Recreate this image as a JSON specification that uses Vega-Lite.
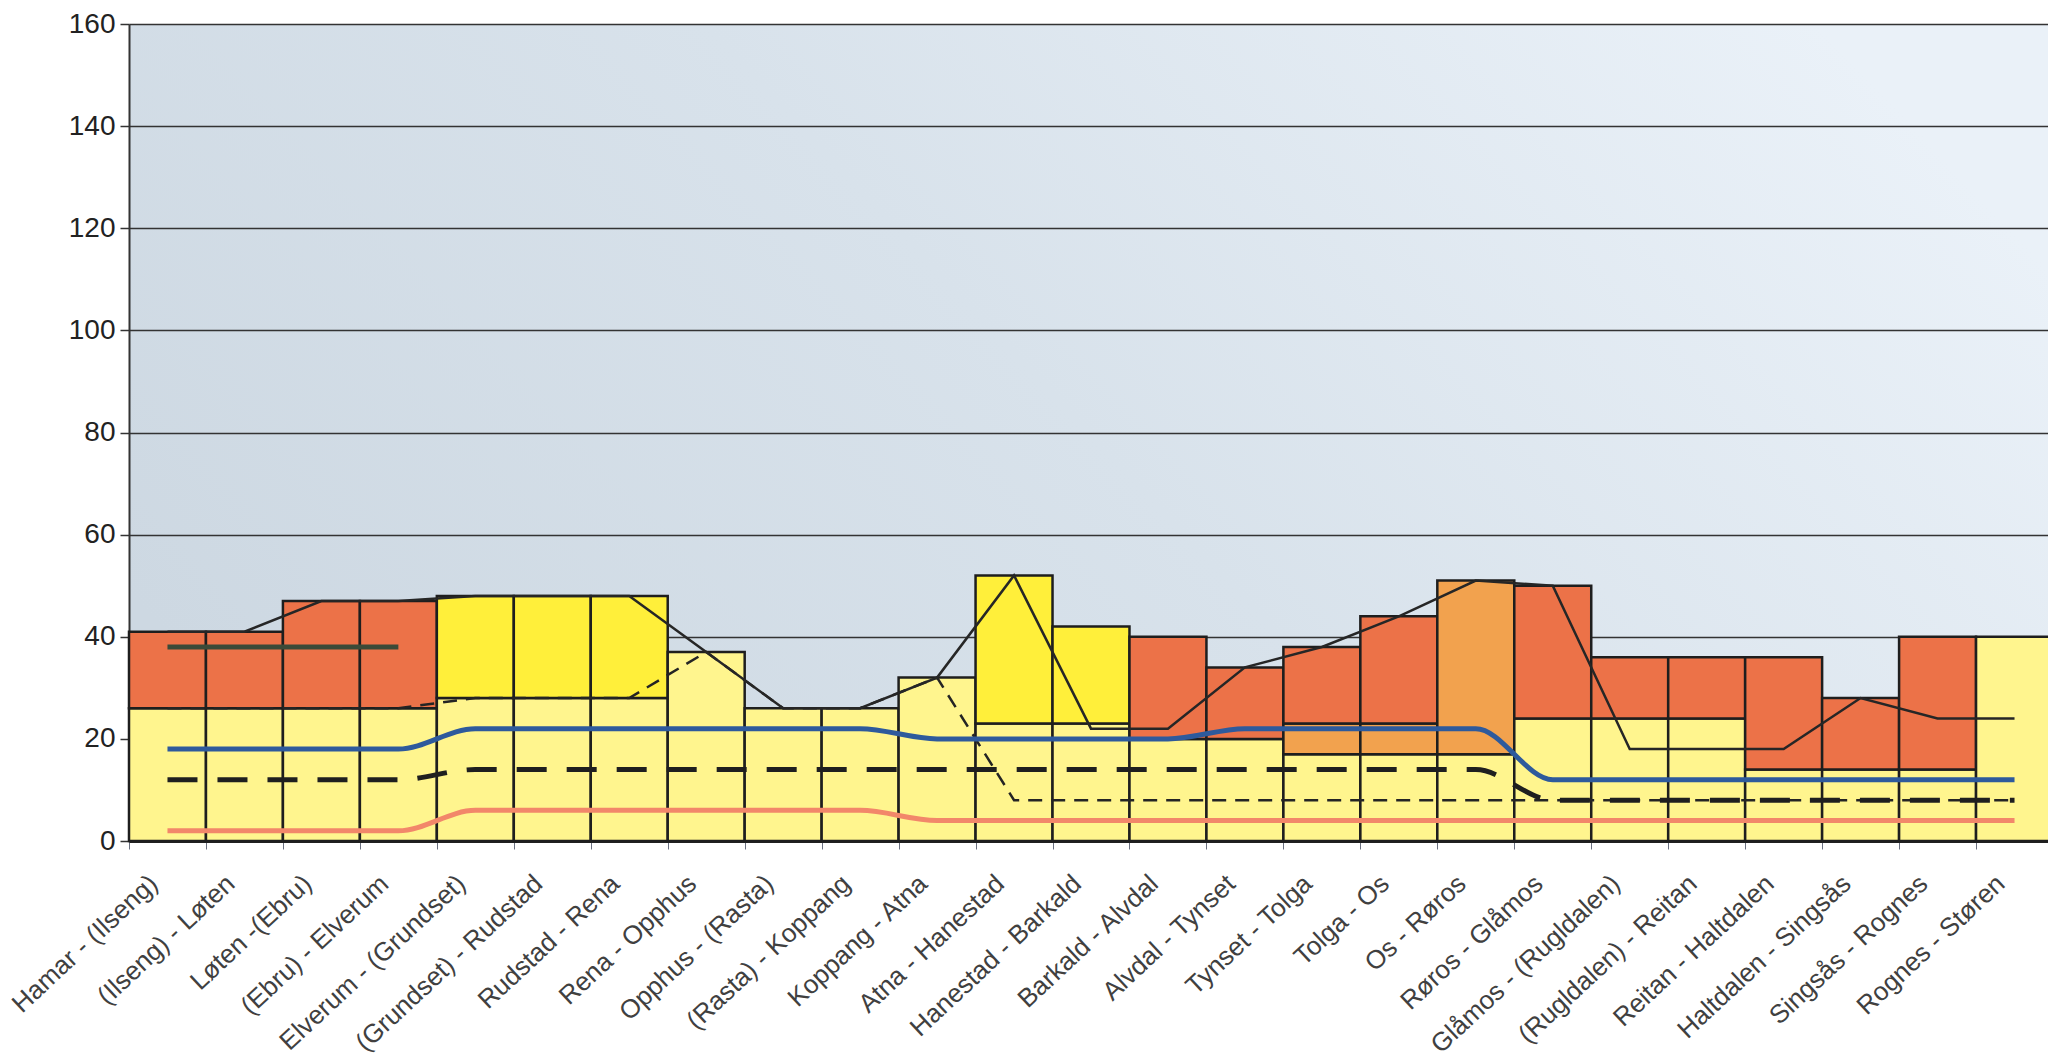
{
  "$schema": "https://vega.github.io/schema/vega-lite/v6.json",
  "width": 1919,
  "height": 817,
  "autosize": {"type": "none"},
  "padding": {"left": 129, "top": 24, "right": 0, "bottom": 219},
  "background": "#ffffff",
  "datasets": {
    "segs": [
      {"r": "Hamar - (Ilseng)", "p": "1base", "v": 26}, {"r": "Hamar - (Ilseng)", "p": "3red", "v": 15},
      {"r": "(Ilseng) - Løten", "p": "1base", "v": 26}, {"r": "(Ilseng) - Løten", "p": "3red", "v": 15},
      {"r": "Løten -(Ebru)", "p": "1base", "v": 26}, {"r": "Løten -(Ebru)", "p": "3red", "v": 21},
      {"r": "(Ebru) - Elverum", "p": "1base", "v": 26}, {"r": "(Ebru) - Elverum", "p": "3red", "v": 21},
      {"r": "Elverum - (Grundset)", "p": "1base", "v": 28}, {"r": "Elverum - (Grundset)", "p": "4yellow", "v": 20},
      {"r": "(Grundset) - Rudstad", "p": "1base", "v": 28}, {"r": "(Grundset) - Rudstad", "p": "4yellow", "v": 20},
      {"r": "Rudstad - Rena", "p": "1base", "v": 28}, {"r": "Rudstad - Rena", "p": "4yellow", "v": 20},
      {"r": "Rena - Opphus", "p": "1base", "v": 37},
      {"r": "Opphus - (Rasta)", "p": "1base", "v": 26},
      {"r": "(Rasta) - Koppang", "p": "1base", "v": 26},
      {"r": "Koppang - Atna", "p": "1base", "v": 32},
      {"r": "Atna - Hanestad", "p": "1base", "v": 23}, {"r": "Atna - Hanestad", "p": "4yellow", "v": 29},
      {"r": "Hanestad - Barkald", "p": "1base", "v": 23}, {"r": "Hanestad - Barkald", "p": "4yellow", "v": 19},
      {"r": "Barkald - Alvdal", "p": "1base", "v": 20}, {"r": "Barkald - Alvdal", "p": "3red", "v": 20},
      {"r": "Alvdal - Tynset", "p": "1base", "v": 20}, {"r": "Alvdal - Tynset", "p": "3red", "v": 14},
      {"r": "Tynset - Tolga", "p": "1base", "v": 17}, {"r": "Tynset - Tolga", "p": "2orange", "v": 6}, {"r": "Tynset - Tolga", "p": "3red", "v": 15},
      {"r": "Tolga - Os", "p": "1base", "v": 17}, {"r": "Tolga - Os", "p": "2orange", "v": 6}, {"r": "Tolga - Os", "p": "3red", "v": 21},
      {"r": "Os - Røros", "p": "1base", "v": 17}, {"r": "Os - Røros", "p": "2orange", "v": 34},
      {"r": "Røros - Glåmos", "p": "1base", "v": 24}, {"r": "Røros - Glåmos", "p": "3red", "v": 26},
      {"r": "Glåmos - (Rugldalen)", "p": "1base", "v": 24}, {"r": "Glåmos - (Rugldalen)", "p": "3red", "v": 12},
      {"r": "(Rugldalen) - Reitan", "p": "1base", "v": 24}, {"r": "(Rugldalen) - Reitan", "p": "3red", "v": 12},
      {"r": "Reitan - Haltdalen", "p": "1base", "v": 14}, {"r": "Reitan - Haltdalen", "p": "3red", "v": 22},
      {"r": "Haltdalen - Singsås", "p": "1base", "v": 14}, {"r": "Haltdalen - Singsås", "p": "3red", "v": 14},
      {"r": "Singsås - Rognes", "p": "1base", "v": 14}, {"r": "Singsås - Rognes", "p": "3red", "v": 26},
      {"r": "Rognes - Støren", "p": "1base", "v": 40}
    ],
    "lines": [
      {"r": "Hamar - (Ilseng)", "a": 41, "b": 26, "c": 12, "blue": 18, "sal": 2, "ol": 38},
      {"r": "(Ilseng) - Løten", "a": 41, "b": 26, "c": 12, "blue": 18, "sal": 2, "ol": 38},
      {"r": "Løten -(Ebru)", "a": 47, "b": 26, "c": 12, "blue": 18, "sal": 2, "ol": 38},
      {"r": "(Ebru) - Elverum", "a": 47, "b": 26, "c": 12, "blue": 18, "sal": 2, "ol": 38},
      {"r": "Elverum - (Grundset)", "a": 48, "b": 28, "c": 14, "blue": 22, "sal": 6, "ol": null},
      {"r": "(Grundset) - Rudstad", "a": 48, "b": 28, "c": 14, "blue": 22, "sal": 6, "ol": null},
      {"r": "Rudstad - Rena", "a": 48, "b": 28, "c": 14, "blue": 22, "sal": 6, "ol": null},
      {"r": "Rena - Opphus", "a": 37, "b": 37, "c": 14, "blue": 22, "sal": 6, "ol": null},
      {"r": "Opphus - (Rasta)", "a": 26, "b": 26, "c": 14, "blue": 22, "sal": 6, "ol": null},
      {"r": "(Rasta) - Koppang", "a": 26, "b": 26, "c": 14, "blue": 22, "sal": 6, "ol": null},
      {"r": "Koppang - Atna", "a": 32, "b": 32, "c": 14, "blue": 20, "sal": 4, "ol": null},
      {"r": "Atna - Hanestad", "a": 52, "b": 8, "c": 14, "blue": 20, "sal": 4, "ol": null},
      {"r": "Hanestad - Barkald", "a": 22, "b": 8, "c": 14, "blue": 20, "sal": 4, "ol": null},
      {"r": "Barkald - Alvdal", "a": 22, "b": 8, "c": 14, "blue": 20, "sal": 4, "ol": null},
      {"r": "Alvdal - Tynset", "a": 34, "b": 8, "c": 14, "blue": 22, "sal": 4, "ol": null},
      {"r": "Tynset - Tolga", "a": 38, "b": 8, "c": 14, "blue": 22, "sal": 4, "ol": null},
      {"r": "Tolga - Os", "a": 44, "b": 8, "c": 14, "blue": 22, "sal": 4, "ol": null},
      {"r": "Os - Røros", "a": 51, "b": 8, "c": 14, "blue": 22, "sal": 4, "ol": null},
      {"r": "Røros - Glåmos", "a": 50, "b": 8, "c": 8, "blue": 12, "sal": 4, "ol": null},
      {"r": "Glåmos - (Rugldalen)", "a": 18, "b": 8, "c": 8, "blue": 12, "sal": 4, "ol": null},
      {"r": "(Rugldalen) - Reitan", "a": 18, "b": 8, "c": 8, "blue": 12, "sal": 4, "ol": null},
      {"r": "Reitan - Haltdalen", "a": 18, "b": 8, "c": 8, "blue": 12, "sal": 4, "ol": null},
      {"r": "Haltdalen - Singsås", "a": 28, "b": 8, "c": 8, "blue": 12, "sal": 4, "ol": null},
      {"r": "Singsås - Rognes", "a": 24, "b": 8, "c": 8, "blue": 12, "sal": 4, "ol": null},
      {"r": "Rognes - Støren", "a": 24, "b": 8, "c": 8, "blue": 12, "sal": 4, "ol": null}
    ]
  },
  "encoding": {
    "x": {
      "field": "r",
      "type": "nominal",
      "sort": null,
      "scale": {
        "domain": ["Hamar - (Ilseng)", "(Ilseng) - Løten", "Løten -(Ebru)", "(Ebru) - Elverum", "Elverum - (Grundset)", "(Grundset) - Rudstad", "Rudstad - Rena", "Rena - Opphus", "Opphus - (Rasta)", "(Rasta) - Koppang", "Koppang - Atna", "Atna - Hanestad", "Hanestad - Barkald", "Barkald - Alvdal", "Alvdal - Tynset", "Tynset - Tolga", "Tolga - Os", "Os - Røros", "Røros - Glåmos", "Glåmos - (Rugldalen)", "(Rugldalen) - Reitan", "Reitan - Haltdalen", "Haltdalen - Singsås", "Singsås - Rognes", "Rognes - Støren"],
        "paddingInner": 0,
        "paddingOuter": 0,
        "range": [0, 1924]
      },
      "axis": {
        "title": null,
        "labelAngle": -43,
        "labelFontSize": 26,
        "labelFont": "Liberation Sans",
        "labelColor": "#404040",
        "labelPadding": 21,
        "labelOffset": -23,
        "labelLimit": 0,
        "tickBand": "extent",
        "tickSize": 8,
        "tickColor": "#6a7080",
        "tickWidth": 1,
        "domainColor": "#222222",
        "domainWidth": 3,
        "grid": false,
        "labelOverlap": false
      }
    }
  },
  "layer": [
    {
      "data": {"name": "segs"},
      "mark": {"type": "bar", "stroke": "#1e1e1e", "strokeWidth": 2.5},
      "encoding": {
        "y": {
          "field": "v",
          "type": "quantitative",
          "stack": "zero",
          "scale": {"domain": [0, 160], "nice": false},
          "axis": {
            "title": null,
            "values": [0, 20, 40, 60, 80, 100, 120, 140, 160],
            "labelFontSize": 28,
            "labelFont": "Liberation Sans",
            "labelColor": "#222222",
            "labelPadding": 5,
            "tickSize": 9,
            "tickColor": "#333333",
            "tickWidth": 1.5,
            "domainColor": "#333333",
            "domainWidth": 2,
            "grid": true,
            "gridColor": "#333333",
            "gridWidth": 1.5
          }
        },
        "color": {
          "field": "p",
          "type": "nominal",
          "legend": null,
          "scale": {"domain": ["1base", "2orange", "3red", "4yellow"], "range": ["#FFF58E", "#F2A24E", "#EC7248", "#FFEF3A"]}
        },
        "order": {"field": "p", "sort": "ascending"}
      }
    },
    {
      "data": {"name": "lines"},
      "mark": {"type": "line", "color": "#3B4A38", "strokeWidth": 5},
      "encoding": {"y": {"field": "ol", "type": "quantitative"}}
    },
    {
      "data": {"name": "lines"},
      "mark": {"type": "line", "color": "#242424", "strokeWidth": 2.5, "strokeDash": [14, 9]},
      "encoding": {"y": {"field": "b", "type": "quantitative"}}
    },
    {
      "data": {"name": "lines"},
      "mark": {"type": "line", "color": "#262626", "strokeWidth": 2.5},
      "encoding": {"y": {"field": "a", "type": "quantitative"}}
    },
    {
      "data": {"name": "lines"},
      "mark": {"type": "line", "color": "#1f1f1f", "strokeWidth": 5, "strokeDash": [30, 20], "interpolate": "monotone"},
      "encoding": {"y": {"field": "c", "type": "quantitative"}}
    },
    {
      "data": {"name": "lines"},
      "mark": {"type": "line", "color": "#2E5A9C", "strokeWidth": 5, "interpolate": "monotone"},
      "encoding": {"y": {"field": "blue", "type": "quantitative"}}
    },
    {
      "data": {"name": "lines"},
      "mark": {"type": "line", "color": "#F2876A", "strokeWidth": 5, "interpolate": "monotone"},
      "encoding": {"y": {"field": "sal", "type": "quantitative"}}
    }
  ],
  "config": {
    "view": {
      "stroke": null,
      "fill": {
        "gradient": "linear",
        "x1": 0, "y1": 0.7, "x2": 1, "y2": 0.3,
        "stops": [
          {"offset": 0, "color": "#CDD8E2"},
          {"offset": 0.5, "color": "#D8E2EB"},
          {"offset": 1, "color": "#EAF1F8"}
        ]
      }
    },
    "font": "Liberation Sans"
  }
}
